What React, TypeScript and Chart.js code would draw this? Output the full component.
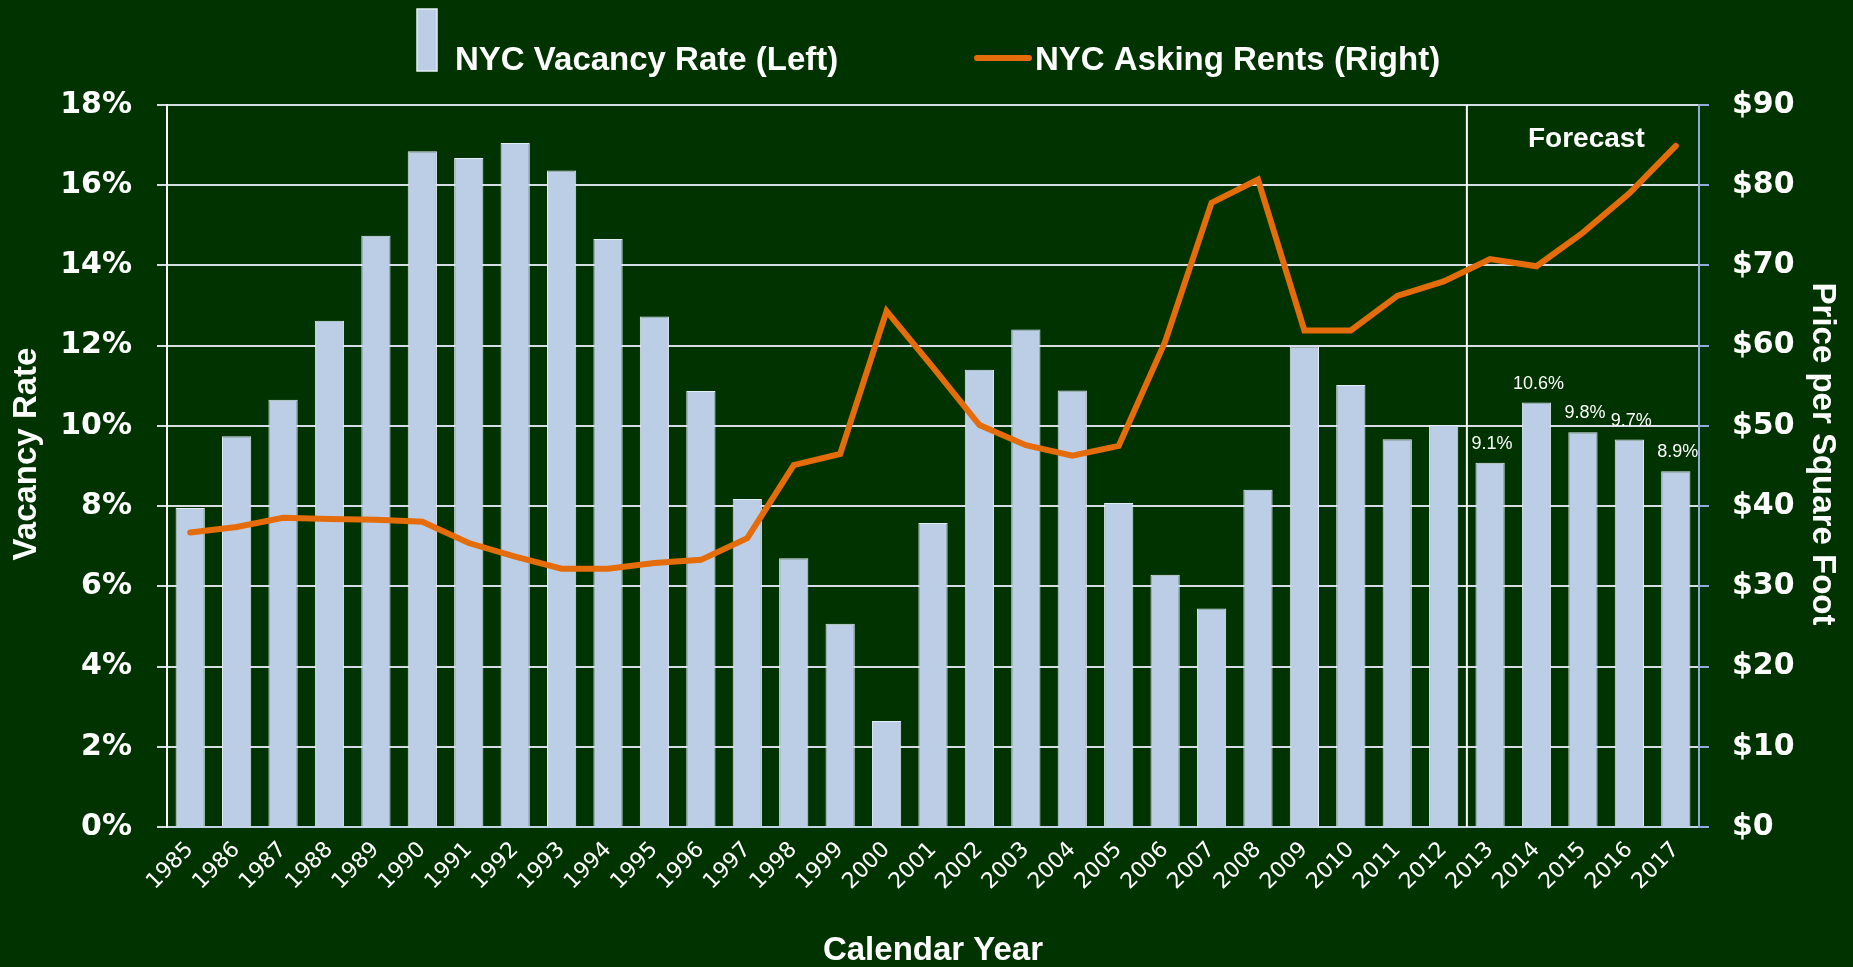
import { useEffect, useRef } from "react";
import { Chart, registerables } from "chart.js";

Chart.register(...registerables);

// ---- data ----
const years = [
  "1985", "1986", "1987", "1988", "1989", "1990", "1991", "1992", "1993", "1994", "1995",
  "1996", "1997", "1998", "1999", "2000", "2001", "2002", "2003", "2004", "2005", "2006",
  "2007", "2008", "2009", "2010", "2011", "2012", "2013", "2014", "2015", "2016", "2017",
];
const vacancyRate = [
  7.95, 9.74, 10.65, 12.62, 14.74, 16.85, 16.68, 17.05, 16.37, 14.66, 12.73,
  10.87, 8.18, 6.7, 5.07, 2.64, 7.58, 11.4, 12.4, 10.88, 8.08, 6.29,
  5.45, 8.41, 11.98, 11.02, 9.67, 10.02, 9.08, 10.58, 9.84, 9.66, 8.87,
];
const askingRents = [
  36.7, 37.4, 38.55, 38.4, 38.3, 38.05, 35.4, 33.7, 32.2, 32.2, 32.9,
  33.3, 36.0, 45.1, 46.5, 64.3, 57.3, 50.1, 47.6, 46.3, 47.5, 60.5,
  77.8, 80.7, 61.9, 61.9, 66.2, 68.0, 70.8, 69.9, 74.1, 79.0, 84.9,
];
const labeledYears = ["2013", "2014", "2015", "2016", "2017"];
const forecastStartYear = "2013";
const barSeriesName = "NYC Vacancy Rate (Left)";
const lineSeriesName = "NYC Asking Rents (Right)";
const leftAxisTitle = "Vacancy Rate";
const rightAxisTitle = "Price per Square Foot";
const xAxisTitle = "Calendar Year";
const forecastText = "Forecast";

// ---- styles ----
const BG = "#003300";
const BAR = "#bbcee5";
const BAR_BORDER = "#e6edf6";
const LINE = "#e46c0a";
const GRID = "#d6dce4";
const RIGHT_AXIS = "#8eaadb";
const SANS = '"Liberation Sans", Arial, sans-serif';
const TICK_FONT = '"DejaVu Sans", Verdana, sans-serif';

export default function App() {
  const ref = useRef<HTMLCanvasElement | null>(null);

  useEffect(() => {
    document.body.style.margin = "0";
    document.body.style.background = BG;
    document.body.style.overflow = "hidden";
    const canvas = ref.current;
    if (!canvas) return;

    const overlay = {
      id: "overlay",
      beforeDatasetsDraw(chart: any) {
        const { ctx, chartArea, scales } = chart;
        const idx = years.indexOf(forecastStartYear);
        const xPos = (scales.x.getPixelForValue(idx - 1) + scales.x.getPixelForValue(idx)) / 2;
        ctx.save();
        ctx.strokeStyle = "#ffffff";
        ctx.lineWidth = 2;
        ctx.beginPath();
        ctx.moveTo(xPos, chartArea.top);
        ctx.lineTo(xPos, chartArea.bottom);
        ctx.stroke();
        ctx.restore();
      },
      afterDraw(chart: any) {
        const { ctx, chartArea } = chart;
        ctx.save();
        ctx.fillStyle = "#ffffff";
        ctx.textBaseline = "alphabetic";

        // legend
        ctx.fillStyle = BAR;
        ctx.fillRect(417, 9, 20, 62);
        ctx.strokeStyle = BAR_BORDER;
        ctx.lineWidth = 1.5;
        ctx.strokeRect(417, 9, 20, 62);
        ctx.fillStyle = "#ffffff";
        ctx.font = `bold 33px ${SANS}`;
        ctx.textAlign = "left";
        ctx.fillText(barSeriesName, 455, 70);

        ctx.strokeStyle = LINE;
        ctx.lineWidth = 6;
        ctx.lineCap = "round";
        ctx.beginPath();
        ctx.moveTo(977, 58);
        ctx.lineTo(1029, 58);
        ctx.stroke();
        ctx.fillText(lineSeriesName, 1035, 70);

        // forecast label
        ctx.font = `bold 28px ${SANS}`;
        ctx.fillText(forecastText, 1528, 147);

        // data labels
        ctx.font = `18px ${SANS}`;
        ctx.textAlign = "center";
        const meta = chart.getDatasetMeta(1);
        years.forEach((yr, i) => {
          if (!labeledYears.includes(yr)) return;
          const el = meta.data[i];
          ctx.fillText(vacancyRate[i].toFixed(1) + "%", el.x + 2, el.y - 14);
        });

        // axis titles
        ctx.font = `bold 33px ${SANS}`;
        ctx.textAlign = "center";
        const midY = 454;
        ctx.save();
        ctx.translate(36, midY);
        ctx.rotate(-Math.PI / 2);
        ctx.fillText(leftAxisTitle, 0, 0);
        ctx.restore();

        ctx.save();
        ctx.translate(1813, midY);
        ctx.rotate(Math.PI / 2);
        ctx.fillText(rightAxisTitle, 0, 0);
        ctx.restore();

        ctx.fillText(xAxisTitle, (chartArea.left + chartArea.right) / 2, 960);
        ctx.restore();
      },
    };

    const chart = new Chart(canvas, {
      data: {
        labels: years,
        datasets: [
          {
            type: "line",
            label: lineSeriesName,
            data: askingRents,
            yAxisID: "y1",
            borderColor: LINE,
            backgroundColor: LINE,
            borderWidth: 6,
            pointRadius: 0,
            borderJoinStyle: "miter",
            borderCapStyle: "round",
            tension: 0,
            order: 1,
          },
          {
            type: "bar",
            label: barSeriesName,
            data: vacancyRate,
            yAxisID: "y",
            backgroundColor: BAR,
            borderColor: BAR_BORDER,
            borderWidth: 1,
            barPercentage: 0.63,
            categoryPercentage: 1,
            order: 2,
          },
        ],
      } as any,
      options: {
        responsive: false,
        animation: false,
        devicePixelRatio: 1,
        layout: { padding: { top: 105, left: 0, right: 0, bottom: 0 } },
        plugins: {
          legend: { display: false },
          tooltip: { enabled: false },
        },
        scales: {
          x: {
            type: "category",
            offset: true,
            grid: { display: true, drawOnChartArea: false, drawTicks: false, color: "rgba(0,0,0,0)" },
            border: { display: true, color: "#c3d2e6", width: 2 },
            ticks: {
              color: "#ffffff",
              font: { family: TICK_FONT, size: 22 },
              minRotation: 45,
              maxRotation: 45,
              autoSkip: false,
              padding: 10,
            },
            afterFit(s: any) {
              s.height = 140;
            },
          },
          y: {
            type: "linear",
            position: "left",
            min: 0,
            max: 18,
            grid: { color: GRID, lineWidth: 2, tickLength: 10, drawTicks: true },
            border: { display: true, color: "#ffffff", width: 2 },
            ticks: {
              stepSize: 2,
              color: "#ffffff",
              padding: 25,
              font: { family: TICK_FONT, size: 30, weight: "bold" },
              callback: (v: any) => v + "%",
            },
            afterFit(s: any) {
              s.width = 167;
            },
          },
          y1: {
            type: "linear",
            position: "right",
            min: 0,
            max: 90,
            grid: { drawOnChartArea: false, color: RIGHT_AXIS, lineWidth: 2, tickLength: 10, drawTicks: true },
            border: { display: true, color: RIGHT_AXIS, width: 2 },
            ticks: {
              stepSize: 10,
              color: "#ffffff",
              padding: 23,
              font: { family: TICK_FONT, size: 30, weight: "bold" },
              callback: (v: any) => "$" + v,
            },
            afterFit(s: any) {
              s.width = 154;
            },
          },
        },
      } as any,
      plugins: [overlay],
    });

    return () => chart.destroy();
  }, []);

  return (
    <canvas
      ref={ref}
      width={1853}
      height={967}
      style={{ display: "block", position: "fixed", left: 0, top: 0, background: BG }}
    />
  );
}
